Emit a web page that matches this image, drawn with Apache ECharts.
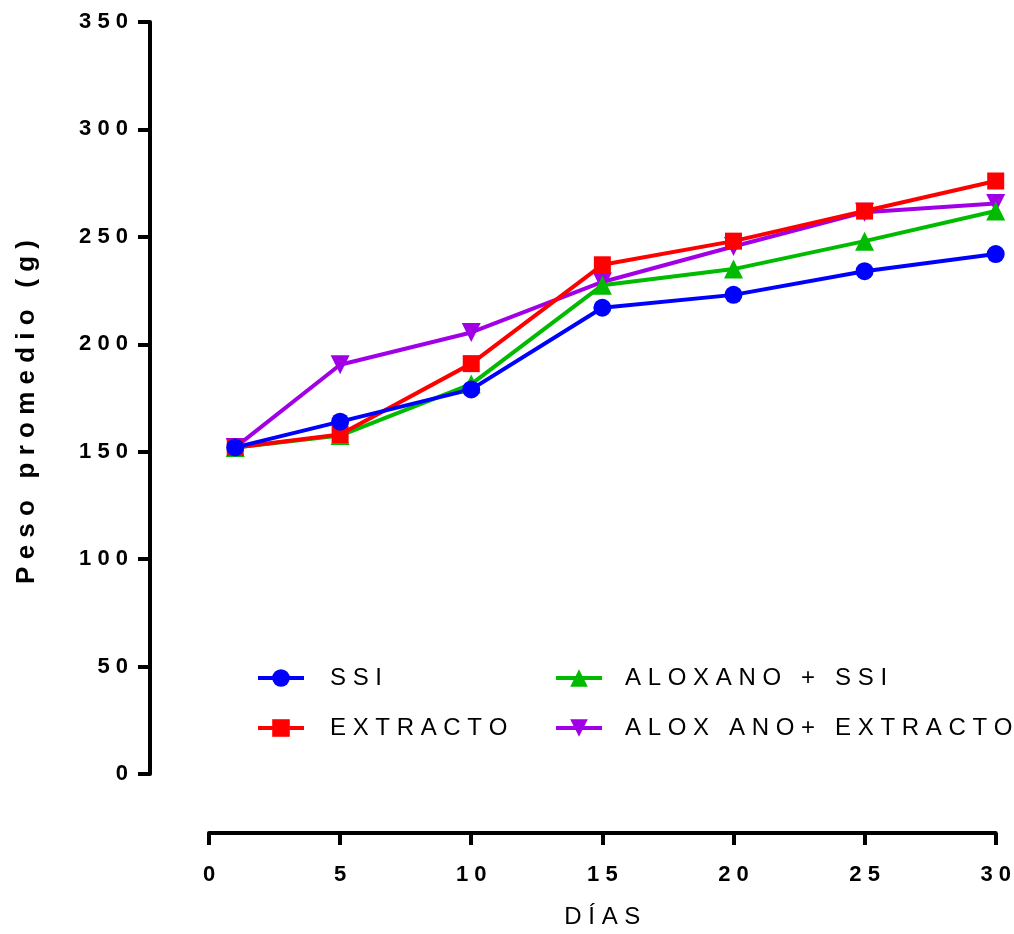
<!DOCTYPE html>
<html>
<head>
<meta charset="utf-8">
<script src="https://cdn.jsdelivr.net/npm/echarts@6/dist/echarts.min.js"></script>
<style>
  html, body { margin: 0; padding: 0; background: #fff; }
  #chart { width: 1014px; height: 934px; }
</style>
</head>
<body>
<div id="chart"></div>
<script>
// days of measurement
const days = [1, 5, 10, 15, 20, 25, 30];

// mean weight (g) per group
const ssi = [152, 164, 179, 217, 223, 234, 242];
const extracto = [152, 158, 191, 237, 248, 262, 276];
const aloxanoSsi = [152, 157.5, 181.5, 227.5, 235, 248, 262];
const aloxanoExtracto = [152, 190.5, 205.5, 229, 245.5, 261.5, 265.5];

const seriesNames = ["SSI", "EXTRACTO", "ALOXANO + SSI", "ALOX ANO+ EXTRACTO"];

const FONT = "'Liberation Sans', Arial, sans-serif";

// spread the letters out like the original figure
const spaced = (s) => String(s).split("").join(" ");
const pairs = (vals) => days.map((d, i) => [d, vals[i]]);

function line(name, vals, color, symbol, size, rotate) {
  return {
    name,
    type: "line",
    data: pairs(vals),
    symbol,
    symbolSize: size,
    symbolRotate: rotate || 0,
    lineStyle: { color, width: 4 },
    itemStyle: { color },
    emphasis: { disabled: true },
    animation: false,
  };
}

const legendBase = {
  orient: "vertical",
  padding: 0,
  itemWidth: 46,
  itemHeight: 22,
  itemGap: 26,
  formatter: spaced,
  selectedMode: false,
  lineStyle: { width: 4 },
  textStyle: { fontSize: 24, fontFamily: FONT, color: "#000" },
};

const tickLabel = {
  formatter: spaced,
  fontSize: 22,
  fontWeight: "bold",
  fontFamily: FONT,
  color: "#000",
};

const chart = echarts.init(document.getElementById("chart"));
chart.setOption({
  backgroundColor: "#fff",
  grid: { left: 209, right: 16, top: 22, bottom: 155 },
  legend: [
    Object.assign({}, legendBase, {
      data: [seriesNames[0], seriesNames[1]],
      left: 256,
      top: 666,
      textStyle: Object.assign({}, legendBase.textStyle, { padding: [0, 0, 0, 21] }),
    }),
    Object.assign({}, legendBase, {
      data: [seriesNames[2], seriesNames[3]],
      left: 554,
      top: 666,
      textStyle: Object.assign({}, legendBase.textStyle, { padding: [0, 0, 0, 18] }),
    }),
  ],
  xAxis: {
    type: "value",
    min: 0,
    max: 30,
    interval: 5,
    offset: 59,
    name: spaced("DÍAS"),
    nameLocation: "middle",
    nameGap: 72,
    nameTextStyle: { fontSize: 24, fontFamily: FONT, color: "#000" },
    axisLine: { onZero: false, lineStyle: { color: "#000", width: 4 } },
    axisTick: { length: 12, lineStyle: { color: "#000", width: 4 } },
    axisLabel: Object.assign({ margin: 31 }, tickLabel),
    splitLine: { show: false },
  },
  yAxis: {
    type: "value",
    min: 0,
    max: 350,
    interval: 50,
    offset: 59,
    name: spaced("Peso promedio (g)"),
    nameLocation: "middle",
    nameGap: 110,
    nameTextStyle: {
      fontSize: 26,
      fontWeight: "bold",
      fontFamily: FONT,
      color: "#000",
      padding: [0, 28, 0, 0],
    },
    axisLine: { show: true, onZero: false, lineStyle: { color: "#000", width: 4 } },
    axisTick: { show: true, length: 12, lineStyle: { color: "#000", width: 4 } },
    axisLabel: Object.assign({ margin: 22 }, tickLabel),
    splitLine: { show: false },
  },
  series: [
    line(seriesNames[3], aloxanoExtracto, "#A100E6", "triangle", 19, 180),
    line(seriesNames[2], aloxanoSsi, "#00BB00", "triangle", 19),
    line(seriesNames[1], extracto, "#FF0000", "rect", 17),
    line(seriesNames[0], ssi, "#0000FF", "circle", 18),
  ],
});
</script>
</body>
</html>
